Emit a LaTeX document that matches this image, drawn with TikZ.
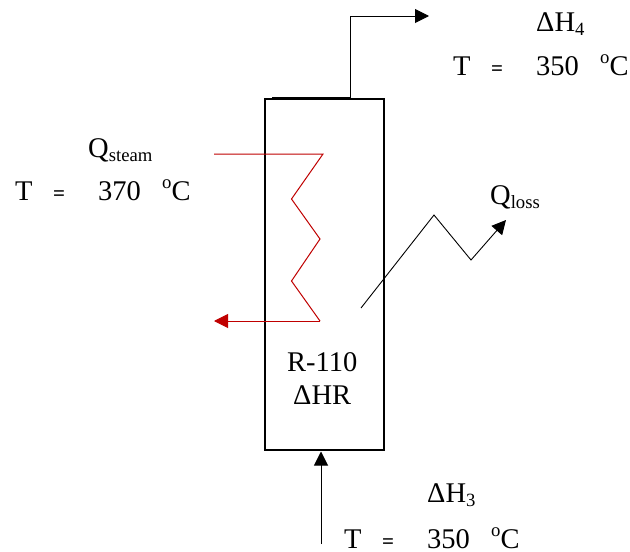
\documentclass[tikz,border=0pt]{standalone}
\usepackage{fontspec}
\setmainfont{Liberation Serif}
\usetikzlibrary{arrows.meta,calc}
\definecolor{steamred}{RGB}{192,0,0}
\newcommand{\subtext}[1]{\raisebox{-4.5pt}{\fontsize{18.7}{19}\selectfont #1}}
\newcommand{\templabel}[1]{\makebox[38pt][l]{T}\makebox[45pt][l]{\fontsize{21}{21}\selectfont\bfseries =}\makebox[64pt][l]{#1}\raisebox{12pt}{\fontsize{18.7}{19}\selectfont o}C}
\tikzset{
  vessel/.style={draw=black,line width=1.3pt,minimum width=119pt,minimum height=351pt,inner sep=0pt},
  pipe/.style={draw=black,line width=1pt},
  thinflow/.style={draw=black,line width=0.9pt},
  headblack/.style={-{Triangle[length=14pt,width=14pt]}},
  coil/.style={draw=steamred,line width=1pt,line join=miter},
  headred/.style={-{Triangle[length=14pt,width=14pt]}},
  lbl/.style={font=\fontsize{28.5}{30}\selectfont,inner sep=0pt,anchor=base west,text=black},
}
\begin{document}
\begin{tikzpicture}[x=1pt,y=-1pt]
\useasboundingbox (0,0) rectangle (630,552);
\fill[white] (0,0) rectangle (630,552);
% reactor
\node[vessel] (reactor) at (324.5,274.5) {};
\coordinate (topL) at (272,98);
\coordinate (outA) at (350,98);
\coordinate (outB) at (350,16);
\coordinate (outC) at (429,16);
\draw[pipe,line width=1.3pt] (topL) -- (outA);
\draw[pipe,headblack] (outA) -- (outB) -- (outC);
% feed
\coordinate (feedA) at (321,544);
\coordinate (feedB) at (321,451.5);
\draw[pipe,headblack] (feedA) -- (feedB);
% steam coil
\coordinate (s0) at (214,154);
\coordinate (s1) at (323,154);
\coordinate (s2) at (291.5,199);
\coordinate (s3) at (320,239);
\coordinate (s4) at (291.5,281);
\coordinate (s5) at (320,321);
\coordinate (s6) at (214,321);
\draw[coil] (s0) -- (s1) -- (s2) -- (s3) -- (s4) -- (s5);
\draw[coil,fill=steamred,headred] (s5) -- (s6);
% heat loss
\coordinate (q0) at (361,308);
\coordinate (q1) at (434,215);
\coordinate (q2) at (471,260);
\coordinate (q3) at (506,220);
\draw[thinflow,headblack] (q0) -- (q1) -- (q2) -- (q3);
% labels
\node[lbl] (h4) at (536,31) {ΔH\subtext{4}};
\node[lbl] (t4) at (453,75) {\templabel{350}};
\node[lbl] (qs) at (88,157) {Q\subtext{steam}};
\node[lbl] (ts) at (15,200) {\templabel{370}};
\node[lbl] (ql) at (490,204) {Q\subtext{loss}};
\node[lbl] (rn) at (287,371) {R-110};
\node[lbl] (rh) at (293,404) {ΔHR};
\node[lbl] (h3) at (427,502) {ΔH\subtext{3}};
\node[lbl] (t3) at (344,548) {\templabel{350}};
\end{tikzpicture}
\end{document}
